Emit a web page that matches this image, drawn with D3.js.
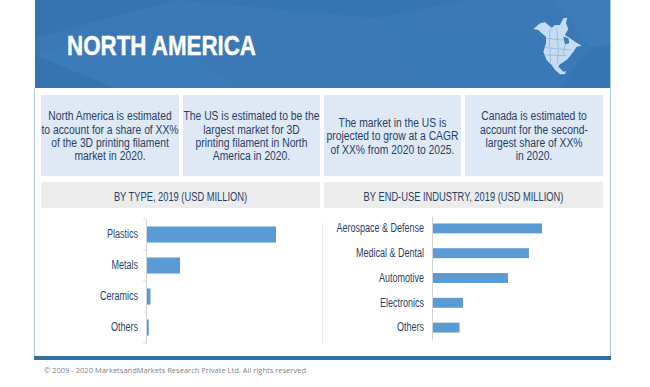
<!DOCTYPE html>
<html>
<head>
<meta charset="utf-8">
<script src="https://cdn.jsdelivr.net/npm/d3@7"></script>
<style>
  html, body { margin: 0; padding: 0; background: #fff; }
  svg { display: block; }
  text { font-family: "Liberation Sans", sans-serif; }
</style>
</head>
<body>
<div id="d3-container"></div>
<script>
// Bar data (no value labels, so values are relative)
const typeNames = ['Plastics', 'Metals', 'Ceramics', 'Others'];
const typeValues = [130, 34, 4.5, 2.8];
const industryNames = ['Aerospace & Defense', 'Medical & Dental', 'Automotive', 'Electronics', 'Others'];
const industryValues = [110, 97, 76, 31, 27.5];

const boxTexts = [
  ['North America is estimated', 'to account for a share of XX%', 'of the 3D printing filament', 'market in 2020.'],
  ['The US is estimated to be the', 'largest market for 3D', 'printing filament in North', 'America in 2020.'],
  ['The market in the US is', 'projected to grow at a CAGR', 'of XX% from 2020 to 2025.'],
  ['Canada is estimated to', 'account for the second-', 'largest share of XX%', 'in 2020.']
];
const chartTitles = ['BY TYPE, 2019 (USD MILLION)', 'BY END-USE INDUSTRY, 2019 (USD MILLION)'];

const width = 650;
const height = 387;
const textColor = '#1f3f66';

const svg = d3.select('#d3-container')
    .append('svg')
    .attr('width', width)
    .attr('height', height);

// No narrow font installed, so squeeze the glyphs instead
function condense(sel, factor) {
  sel.each(function () {
    const len = this.getComputedTextLength();
    d3.select(this)
      .attr('textLength', len * factor)
      .attr('lengthAdjust', 'spacingAndGlyphs');
  });
}

// Outer panel borders and footer line
svg.append('rect').attr('x', 34).attr('y', 88).attr('width', 1).attr('height', 268).attr('fill', '#a9c6e6');
svg.append('rect').attr('x', 610).attr('y', 0).attr('width', 1).attr('height', 356).attr('fill', '#a9c6e6');
svg.append('rect').attr('x', 34).attr('y', 356).attr('width', 577).attr('height', 4).attr('fill', '#33709f');

// Header band with faint facets
const header = svg.append('g');
header.append('rect').attr('x', 35).attr('y', 0).attr('width', 575).attr('height', 88).attr('fill', '#3a78b6');
const facets = [
  [[35, 0], [175, 0], [35, 38]],
  [[35, 55], [115, 88], [35, 88]],
  [[35, 55], [150, 30], [240, 88], [115, 88]],
  [[175, 0], [465, 0], [375, 18]],
  [[375, 18], [610, 45], [590, 88], [425, 88]],
  [[555, 0], [610, 0], [610, 45], [590, 47]],
  [[590, 47], [610, 45], [610, 88], [560, 88]]
];
const facetFill = ['#2f6dab', '#2f6dab', '#4180bd', '#3270ae', '#3b7ab8', '#4583bf', '#3271ae'];
header.selectAll('polygon')
  .data(facets)
  .join('polygon')
    .attr('points', d => d.join(' '))
    .attr('fill', (d, i) => facetFill[i])
    .attr('opacity', 0.4);

header.append('text')
    .attr('x', 67)
    .attr('y', 55)
    .attr('fill', '#fff')
    .attr('stroke', '#fff')
    .attr('stroke-width', 0.4)
    .attr('font-size', 28)
    .attr('font-weight', 700)
    .attr('textLength', 189)
    .attr('lengthAdjust', 'spacingAndGlyphs')
    .text('NORTH AMERICA');

// Rough outline of the continent, traced at 3x around the corner (510,5)
const mapShape = [[70, 72], [90, 55], [105, 52], [125, 68], [135, 60], [150, 60], [160, 40], [172, 38], [168, 55],
  [175, 72], [165, 90], [180, 100], [195, 110], [215, 122], [200, 125], [190, 140], [175, 160], [170, 165], [150, 178],
  [145, 185], [160, 200], [168, 198], [165, 208], [150, 208], [135, 195], [125, 180], [110, 165], [100, 140],
  [108, 115], [108, 95], [95, 85], [85, 75]];
const mapBay = [[160, 95], [175, 100], [178, 115], [165, 118]];
const mapLines = [[[104, 128], [185, 135]], [[120, 72], [118, 125]], [[140, 70], [145, 130]], [[102, 150], [170, 152]],
  [[120, 132], [122, 172]], [[145, 134], [142, 175]], [[165, 118], [160, 150]], [[108, 100], [160, 105]]];
const map = header.append('g').attr('transform', 'translate(510,5) scale(0.3333)');
map.append('polygon').attr('points', mapShape.join(' ')).attr('fill', '#c5dcf2');
map.append('polygon').attr('points', mapBay.join(' ')).attr('fill', '#3a78b6');
map.selectAll('path')
  .data(mapLines)
  .join('path')
    .attr('d', d => d3.line()(d))
    .attr('stroke', '#7fa9d3')
    .attr('stroke-width', 1.8)
    .attr('fill', 'none');

// Four text boxes
const boxX = [41, 183, 324, 465];
const boxW = [138, 137, 137, 138];
const boxes = svg.append('g').selectAll('g')
  .data(boxTexts)
  .join('g')
    .attr('transform', (d, i) => `translate(${boxX[i]},95)`);
boxes.append('rect')
    .attr('width', (d, i) => boxW[i])
    .attr('height', 81)
    .attr('fill', '#dfe9f5');
boxes.each(function (lines, i) {
  const top = 41 - (lines.length - 1) * 13.4 / 2;
  d3.select(this).selectAll('text')
    .data(lines)
    .join('text')
      .attr('x', boxW[i] / 2)
      .attr('y', (d, j) => top + j * 13.4)
      .attr('dy', '0.35em')
      .attr('text-anchor', 'middle')
      .attr('font-size', 12)
      .attr('fill', textColor)
      .text(d => d)
      .call(condense, 0.86);
});

// Chart title bars
[[41, 279], [324, 279]].forEach(([x, w], i) => {
  svg.append('rect').attr('x', x).attr('y', 182).attr('width', w).attr('height', 26).attr('fill', '#ececec');
  svg.append('text')
      .attr('x', x + w / 2)
      .attr('y', 197)
      .attr('dy', '0.35em')
      .attr('text-anchor', 'middle')
      .attr('font-size', 12.5)
      .attr('fill', textColor)
      .text(chartTitles[i])
      .call(condense, 0.745);
});

// Horizontal bar chart with a plain category axis
function barChart(names, values, x0, top, bottom, barFrac, withTicks) {
  const x = d3.scaleLinear().domain([0, d3.max(values)]).range([x0, x0 + d3.max(values)]);
  const y = d3.scaleBand().domain(names).range([top, bottom]).paddingInner(barFrac).paddingOuter(barFrac / 2);
  const g = svg.append('g');

  g.selectAll('rect')
    .data(values)
    .join('rect')
      .attr('x', x(0))
      .attr('y', (d, i) => y(names[i]))
      .attr('width', d => x(d) - x(0))
      .attr('height', y.bandwidth())
      .attr('fill', '#5b9bd5');

  const axis = g.append('g')
      .attr('transform', `translate(${x0},0)`)
      .call(d3.axisLeft(y).tickSize(0).tickPadding(8));
  axis.select('.domain').attr('stroke', '#d4d4d4');
  axis.selectAll('text')
      .attr('font-size', 12)
      .attr('fill', textColor)
      .call(condense, 0.75);

  if (withTicks) {
    // small marks between the categories
    const edges = names.map(n => y(n) - y.step() * barFrac / 2).concat(bottom);
    g.selectAll('line.edge')
      .data(edges)
      .join('line')
        .attr('class', 'edge')
        .attr('x1', x0 - 3)
        .attr('x2', x0)
        .attr('y1', d => d)
        .attr('y2', d => d)
        .attr('stroke', '#d9d9d9');
  }
}

barChart(typeNames, typeValues, 146, 219, 343, 0.48, true);
barChart(industryNames, industryValues, 432, 216, 340, 0.6, false);

// Faint rule between the two charts
svg.append('line')
    .attr('x1', 322.5).attr('x2', 322.5)
    .attr('y1', 223).attr('y2', 343)
    .attr('stroke', '#e8e8e8');

// Footer
svg.append('text')
    .attr('x', 44)
    .attr('y', 370)
    .attr('dy', '0.35em')
    .attr('font-size', 7.5)
    .attr('fill', '#7f7f7f')
    .attr('textLength', 262)
    .style('font-family', '"Open Sans", sans-serif')
    .text('© 2009 - 2020 MarketsandMarkets Research Private Ltd. All rights reserved');
</script>
</body>
</html>
